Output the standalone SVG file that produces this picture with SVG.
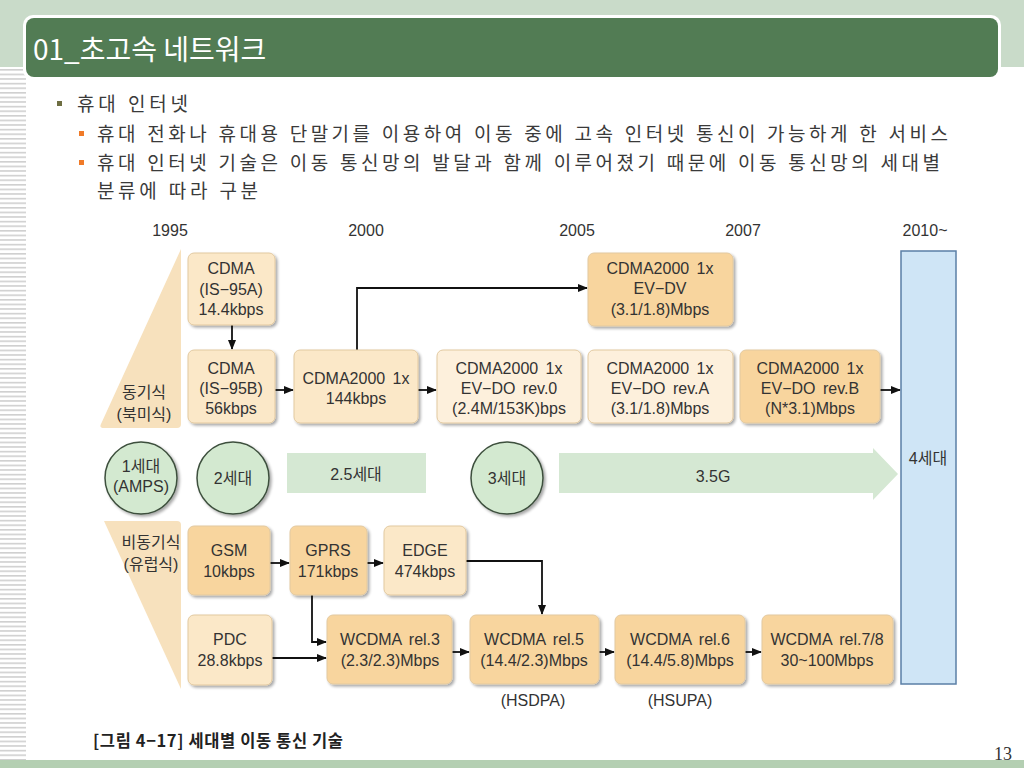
<svg xmlns="http://www.w3.org/2000/svg" width="1024" height="768" viewBox="0 0 1024 768">
<defs>
<pattern id="stripes" x="0" y="0" width="26" height="4.6" patternUnits="userSpaceOnUse">
<rect x="0" y="0" width="26" height="1.6" fill="#cfcfcf"/>
</pattern>
<marker id="ah" markerWidth="10" markerHeight="8" refX="9" refY="4" orient="auto" markerUnits="userSpaceOnUse">
<path d="M0,0 L10,4 L0,8 Z" fill="#111"/>
</marker>
<filter id="sh" x="-10%" y="-10%" width="130%" height="130%">
<feGaussianBlur in="SourceAlpha" stdDeviation="1.5"/>
<feOffset dx="2" dy="2" result="o"/>
<feComponentTransfer><feFuncA type="linear" slope="0.35"/></feComponentTransfer>
<feMerge><feMergeNode/><feMergeNode in="SourceGraphic"/></feMerge>
</filter>
</defs>
<style>
.bx{stroke:#e2c9a0;stroke-width:1;filter:url(#sh)}
.lt{fill:#fbe8c8}
.vl{fill:#fdf0dc}
.or{fill:#f8d59e}
.t{font-family:"Liberation Sans","Noto Sans CJK KR",sans-serif;font-size:16px;fill:#333;text-anchor:middle;word-spacing:3px}
.yr{font-family:"Liberation Sans","Noto Sans CJK KR",sans-serif;font-size:16px;fill:#333;text-anchor:middle}
.bl{font-family:"Liberation Serif","Noto Sans CJK KR",serif;font-size:19px;fill:#3a3a3a}
.ln{fill:none;stroke:#111;stroke-width:1.8}
.circ{fill:#d3e9d0;stroke:#3d4f3d;stroke-width:1.5;filter:url(#sh)}
</style>

<!-- background -->
<rect x="0" y="0" width="1024" height="768" fill="#ffffff"/>
<rect x="0" y="0" width="1024" height="67" fill="#c9dbc9"/>
<rect x="0" y="68" width="26" height="692" fill="url(#stripes)"/>
<rect x="0" y="760" width="1024" height="8" fill="#b4cfb2"/>
<rect x="23" y="15" width="978" height="65" rx="10" fill="#ffffff"/>
<rect x="26" y="18" width="972" height="59" rx="8" fill="#527c54"/>
<text x="33" y="60" font-family="'Noto Sans CJK KR',sans-serif" font-size="28" fill="#ffffff">01_초고속 네트워크</text>

<!-- bullets -->
<rect x="57" y="101" width="5" height="5" fill="#6e6e42"/>
<text class="bl" x="77" y="111" textLength="111" lengthAdjust="spacing">휴대 인터넷</text>
<rect x="79" y="131" width="5" height="5" fill="#f07a28"/>
<text class="bl" x="97" y="141" textLength="851" lengthAdjust="spacing">휴대 전화나 휴대용 단말기를 이용하여 이동 중에 고속 인터넷 통신이 가능하게 한 서비스</text>
<rect x="79" y="160" width="5" height="5" fill="#f07a28"/>
<text class="bl" x="97" y="170" textLength="843" lengthAdjust="spacing">휴대 인터넷 기술은 이동 통신망의 발달과 함께 이루어졌기 때문에 이동 통신망의 세대별</text>
<text class="bl" x="97" y="198" textLength="161" lengthAdjust="spacing">분류에 따라 구분</text>

<!-- years -->
<g id="years">
<text class="yr" x="170" y="236">1995</text>
<text class="yr" x="366" y="236">2000</text>
<text class="yr" x="577" y="236">2005</text>
<text class="yr" x="743" y="236">2007</text>
<text class="yr" x="925" y="236">2010~</text>
</g>

<!-- side labels -->
<g id="sync">
<path d="M181,249 L181,424 Q181,428 177,428 L104,428 Q99,428 101,424 Z" fill="#f7e1bd"/>
<text class="t" x="144" y="398">동기식</text>
<text class="t" x="144" y="420">(북미식)</text>
</g>
<g id="async">
<path d="M104,521 L177,521 Q181,521 181,525 L181,689 Z" fill="#f7e1bd"/>
<text class="t" x="151" y="548">비동기식</text>
<text class="t" x="151" y="570">(유럽식)</text>
</g>

<!-- connectors -->
<g id="connectors">
<line class="ln" x1="232" y1="325" x2="232" y2="349" marker-end="url(#ah)"/>
<line class="ln" x1="275" y1="390" x2="293" y2="390" marker-end="url(#ah)"/>
<polyline class="ln" points="357,350 357,288 587,288" marker-end="url(#ah)"/>
<line class="ln" x1="418" y1="390" x2="436" y2="390" marker-end="url(#ah)"/>
<line class="ln" x1="880" y1="390" x2="900" y2="390" marker-end="url(#ah)"/>
<line class="ln" x1="270" y1="563" x2="289" y2="563" marker-end="url(#ah)"/>
<line class="ln" x1="367" y1="563" x2="383" y2="563" marker-end="url(#ah)"/>
<polyline class="ln" points="466,561 542,561 542,614" marker-end="url(#ah)"/>
<polyline class="ln" points="312,595 312,642 326,642" marker-end="url(#ah)"/>
<line class="ln" x1="272" y1="658" x2="326" y2="658" stroke-width="2.6" marker-end="url(#ah)"/>
<line class="ln" x1="452" y1="652" x2="469" y2="652" marker-end="url(#ah)"/>
<line class="ln" x1="599" y1="652" x2="614" y2="652" marker-end="url(#ah)"/>
<line class="ln" x1="745" y1="652" x2="761" y2="652" marker-end="url(#ah)"/>
</g>

<!-- top row -->
<g id="is95a"><rect class="bx lt" x="188" y="253" width="87" height="72" rx="6"/>
<text class="t" x="231" y="274">CDMA</text><text class="t" x="231" y="295">(IS−95A)</text><text class="t" x="231" y="315">14.4kbps</text></g>
<g id="is95b"><rect class="bx lt" x="188" y="350" width="87" height="73" rx="6"/>
<text class="t" x="231" y="374">CDMA</text><text class="t" x="231" y="394">(IS−95B)</text><text class="t" x="231" y="414">56kbps</text></g>
<g id="cdma1x"><rect class="bx lt" x="294" y="350" width="124" height="73" rx="6"/>
<text class="t" x="356" y="384">CDMA2000 1x</text><text class="t" x="356" y="404">144kbps</text></g>
<g id="evdv"><rect class="bx or" x="588" y="253" width="145" height="73" rx="6"/>
<text class="t" x="660" y="274">CDMA2000 1x</text><text class="t" x="660" y="294">EV−DV</text><text class="t" x="660" y="315">(3.1/1.8)Mbps</text></g>
<g id="rev0"><rect class="bx vl" x="437" y="350" width="144" height="73" rx="6"/>
<text class="t" x="509" y="374">CDMA2000 1x</text><text class="t" x="509" y="394">EV−DO rev.0</text><text class="t" x="509" y="414">(2.4M/153K)bps</text></g>
<g id="revA"><rect class="bx vl" x="588" y="350" width="145" height="73" rx="6"/>
<text class="t" x="660" y="374">CDMA2000 1x</text><text class="t" x="660" y="394">EV−DO rev.A</text><text class="t" x="660" y="414">(3.1/1.8)Mbps</text></g>
<g id="revB"><rect class="bx or" x="740" y="350" width="140" height="73" rx="6"/>
<text class="t" x="810" y="374">CDMA2000 1x</text><text class="t" x="810" y="394">EV−DO rev.B</text><text class="t" x="810" y="414">(N*3.1)Mbps</text></g>

<!-- 4th gen -->
<g id="gen4"><rect x="901" y="251" width="55" height="433" fill="#cfe5f6" stroke="#5b7fa6" stroke-width="1.5"/>
<text class="t" x="928" y="464" font-size="15">4세대</text></g>

<!-- generation row -->
<g id="gen1"><circle class="circ" cx="141" cy="478" r="36"/>
<text class="t" x="141" y="472" font-size="16">1세대</text><text class="t" x="141" y="492" font-size="16">(AMPS)</text></g>
<g id="gen2"><circle class="circ" cx="233" cy="478" r="36"/>
<text class="t" x="233" y="484" font-size="16">2세대</text></g>
<g id="gen25"><rect x="287" y="453" width="139" height="40" fill="#d5e8d3"/>
<text class="t" x="356" y="480" font-size="16">2.5세대</text></g>
<g id="gen3"><circle class="circ" cx="507" cy="478" r="36"/>
<text class="t" x="507" y="484" font-size="16">3세대</text></g>
<g id="gen35"><path d="M559,453 L873,453 L873,448 L898,474 L873,500 L873,493 L559,493 Z" fill="#d5e8d3"/>
<text class="t" x="713" y="482" font-size="16">3.5G</text></g>

<!-- lower rows -->
<g id="gsm"><rect class="bx or" x="188" y="526" width="82" height="69" rx="6"/>
<text class="t" x="229" y="556">GSM</text><text class="t" x="229" y="577">10kbps</text></g>
<g id="gprs"><rect class="bx or" x="290" y="526" width="77" height="69" rx="6"/>
<text class="t" x="328" y="556">GPRS</text><text class="t" x="328" y="577">171kbps</text></g>
<g id="edge"><rect class="bx lt" x="384" y="526" width="82" height="69" rx="6"/>
<text class="t" x="425" y="556">EDGE</text><text class="t" x="425" y="577">474kbps</text></g>
<g id="pdc"><rect class="bx lt" x="188" y="615" width="84" height="70" rx="6"/>
<text class="t" x="230" y="645">PDC</text><text class="t" x="230" y="666">28.8kbps</text></g>
<g id="rel3"><rect class="bx or" x="327" y="615" width="125" height="69" rx="6"/>
<text class="t" x="390" y="645">WCDMA rel.3</text><text class="t" x="390" y="666">(2.3/2.3)Mbps</text></g>
<g id="rel5"><rect class="bx or" x="470" y="615" width="129" height="69" rx="6"/>
<text class="t" x="534" y="645">WCDMA rel.5</text><text class="t" x="534" y="666">(14.4/2.3)Mbps</text></g>
<g id="rel6"><rect class="bx or" x="615" y="615" width="130" height="69" rx="6"/>
<text class="t" x="680" y="645">WCDMA rel.6</text><text class="t" x="680" y="666">(14.4/5.8)Mbps</text></g>
<g id="rel78"><rect class="bx or" x="762" y="615" width="131" height="69" rx="6"/>
<text class="t" x="827" y="645">WCDMA rel.7/8</text><text class="t" x="827" y="666">30~100Mbps</text></g>
<text class="t" x="533" y="706" font-size="15">(HSDPA)</text>
<text class="t" x="680" y="706" font-size="15">(HSUPA)</text>

<!-- caption -->
<text x="93" y="747" font-family="'Noto Sans CJK KR',sans-serif" font-size="16.5" font-weight="bold" fill="#222" textLength="250" lengthAdjust="spacing">[그림 4−17] 세대별 이동 통신 기술</text>
<text x="1012" y="760" text-anchor="end" font-family="'Liberation Serif',serif" font-size="18" fill="#333">13</text>
</svg>
